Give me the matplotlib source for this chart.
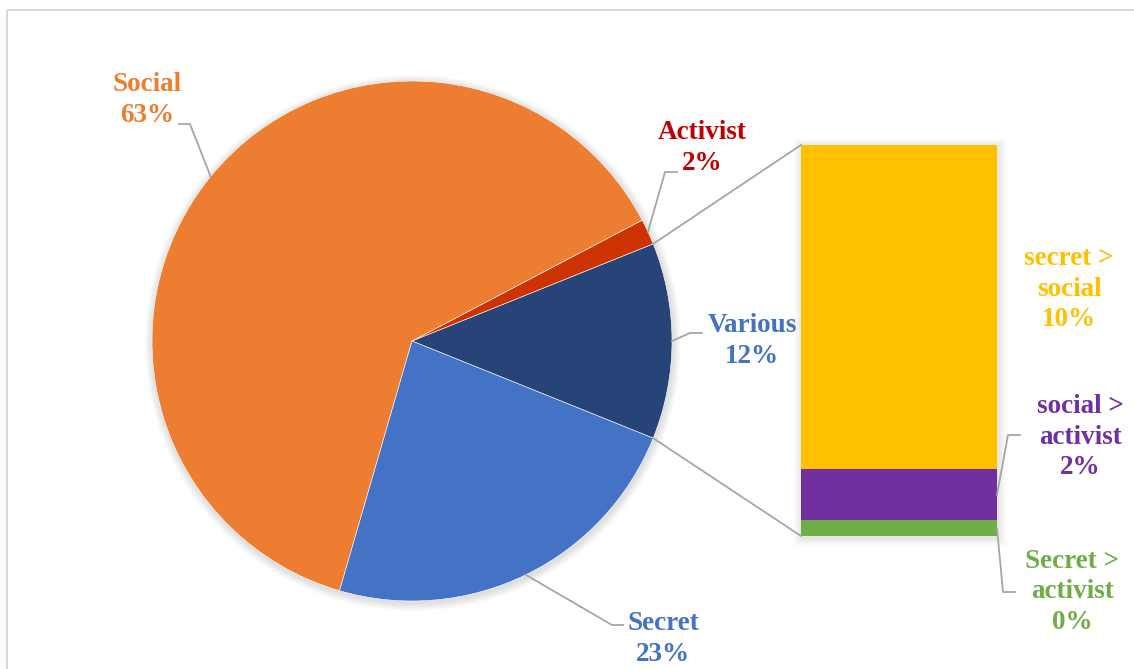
import matplotlib.pyplot as plt
from matplotlib.patches import Circle, Rectangle
import numpy as np

# === Data ===
pie_labels = ["Various", "Activist", "Social", "Secret"]
pie_values = [12.19, 1.6, 62.81, 23.4]
pie_colors = ["#264478", "#CC3300", "#ED7D31", "#4472C4"]
pie_text_colors = ["#4472C4", "#C00000", "#ED7D31", "#4472C4"]

# breakdown of the "Various" slice, bottom to top
bar_labels = ["Secret >\nactivist", "social >\nactivist", "secret >\nsocial"]
bar_values = [0.49, 1.6, 10.1]
bar_colors = ["#70AD47", "#7030A0", "#FFC000"]

# === Layout (figure pixels) ===
W, H = 1134, 669
CX, CY, R = 412, 341, 260
BX0, BX1, BTOP, BBOT = 801, 997, 145, 536
LINE_COLOR = "#A6A6A6"

# label centre, elbow and end of each leader line
pie_label_pos = {"Social": (147, 100), "Activist": (702, 148),
                 "Various": (752, 341), "Secret": (663, 639)}
pie_leaders = {"Social": [(190, 124), (179, 124)],
               "Activist": [(665, 172), (677, 172)],
               "Various": [(690, 333), (702, 333)],
               "Secret": [(612, 625), (623, 625)]}
bar_label_pos = [(1072, 592), (1080, 437), (1069, 289)]
bar_leaders = [[(1003, 592), (1015, 592)], [(1008, 435), (1020, 435)], None]

plt.rcParams["font.family"] = ["Liberation Serif", "DejaVu Serif"]
fig = plt.figure(figsize=(W / 100, H / 100), dpi=100)

# background layer: frame + soft shadows
back = fig.add_axes([0, 0, 1, 1])
back.set_xlim(0, W)
back.set_ylim(H, 0)
back.axis("off")
back.add_patch(Rectangle((7, 10), W, H, facecolor="none", edgecolor="#D9D9D9", lw=1.5))
for k in range(1, 9):
    back.add_patch(Circle((CX + 1, CY + 2), R + k, facecolor="black", alpha=0.014, lw=0))
    back.add_patch(Rectangle((BX0 - k + 1, BTOP - k + 2), BX1 - BX0 + 2 * k, BBOT - BTOP + 2 * k,
                             facecolor="black", alpha=0.012, lw=0))

# === Pie ===
ax_pie = fig.add_axes([(CX - R) / W, 1 - (CY + R) / H, 2 * R / W, 2 * R / H])
start = -pie_values[0] / sum(pie_values) * 360 / 2
wedges, _ = ax_pie.pie(pie_values, colors=pie_colors, startangle=start, radius=1,
                       wedgeprops=dict(edgecolor="white", linewidth=0.4))
ax_pie.set_xlim(-1, 1)
ax_pie.set_ylim(-1, 1)
ax_pie.axis("off")

# === Stacked bar ===
ax_bar = fig.add_axes([BX0 / W, 1 - BBOT / H, (BX1 - BX0) / W, (BBOT - BTOP) / H])
bottoms = np.concatenate([[0], np.cumsum(bar_values)[:-1]])
ax_bar.bar(0, bar_values, bottom=bottoms, width=1, color=bar_colors)
ax_bar.set_xlim(-0.5, 0.5)
ax_bar.set_ylim(0, sum(bar_values))
ax_bar.axis("off")

# front layer: connectors, leaders, labels
front = fig.add_axes([0, 0, 1, 1])
front.set_xlim(0, W)
front.set_ylim(H, 0)
front.axis("off")


def edge_point(angle):
    a = np.deg2rad(angle)
    return CX + R * np.cos(a), CY - R * np.sin(a)


# connectors from the Various slice to the bar
various = wedges[0]
for ang, ycorner in [(various.theta1, BBOT), (various.theta2, BTOP)]:
    x0, y0 = edge_point(ang)
    front.plot([x0, BX0], [y0, ycorner], color=LINE_COLOR, lw=1.3)

font = dict(fontsize=19.5, fontweight="bold", ha="center", va="center", linespacing=1.27)

for name, val, w, tc in zip(pie_labels, pie_values, wedges, pie_text_colors):
    mid = (w.theta1 + w.theta2) / 2
    pts = [edge_point(mid)] + pie_leaders[name]
    xs, ys = zip(*pts)
    front.plot(xs, ys, color=LINE_COLOR, lw=1.3)
    tx, ty = pie_label_pos[name]
    front.text(tx, ty, f"{name}\n{val:.0f}%", color=tc, **font)

total = sum(bar_values)
for lab, val, b, c, pos, lead in zip(bar_labels, bar_values, bottoms, bar_colors,
                                      bar_label_pos, bar_leaders):
    if lead is not None:
        ymid = BBOT - (b + val / 2) / total * (BBOT - BTOP)
        xs, ys = zip(*([(BX1, ymid)] + lead))
        front.plot(xs, ys, color=LINE_COLOR, lw=1.3)
    front.text(pos[0], pos[1], f"{lab}\n{val:.0f}%", color=c, **font)

plt.savefig("out.png", dpi=100)
